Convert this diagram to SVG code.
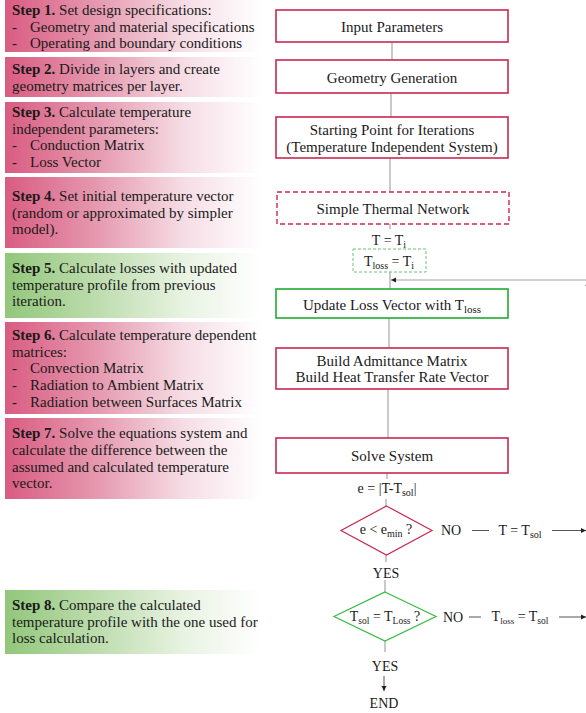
<svg xmlns="http://www.w3.org/2000/svg" width="586" height="713" viewBox="0 0 586 713">
<defs>
<linearGradient id="gPink" x1="0" y1="0" x2="1" y2="0">
<stop offset="0" stop-color="#d95c81"/>
<stop offset="0.35" stop-color="#e597ae"/>
<stop offset="0.7" stop-color="#f6dde5"/>
<stop offset="1" stop-color="#ffffff"/>
</linearGradient>
<linearGradient id="gGreen" x1="0" y1="0" x2="1" y2="0">
<stop offset="0" stop-color="#92c77b"/>
<stop offset="0.35" stop-color="#bcdcac"/>
<stop offset="0.7" stop-color="#e8f3e2"/>
<stop offset="1" stop-color="#ffffff"/>
</linearGradient>
<marker id="arr" markerWidth="6" markerHeight="6" refX="5" refY="3" orient="auto" markerUnits="userSpaceOnUse">
<path d="M0,0.5 L5,3 L0,5.5 Z" fill="#222"/>
</marker>
<style>
.st{font-family:"Liberation Serif","Times New Roman",serif;font-size:15px;fill:#1a1a1a}
.b{font-weight:bold}
.fc{font-family:"Liberation Serif","Times New Roman",serif;font-size:15px;fill:#1a1a1a;text-anchor:middle}
.lb{font-family:"Liberation Serif","Times New Roman",serif;font-size:14px;fill:#1a1a1a;text-anchor:middle}
.red{fill:#fff;stroke:#c8284e;stroke-width:1.6}
.grn{fill:#fff;stroke:#22aa33;stroke-width:1.6}
.redd{fill:#fff;stroke:#c8284e;stroke-width:1.4;stroke-dasharray:5,3}
.grnd{fill:#fff;stroke:#6cc46f;stroke-width:1;stroke-dasharray:3,2}
.ln{stroke:#a6a6a6;stroke-width:1.2;fill:none}
.la{stroke:#555;stroke-width:1;fill:none}
</style>
</defs>

<g id="steps">
<g id="step1">
<rect x="5" y="0" width="256" height="52" fill="url(#gPink)"/>
<text class="st" x="12" y="15"><tspan class="b">Step 1.</tspan> Set design specifications:</text>
<text class="st" x="12" y="31.5">-</text><text class="st" x="30" y="31.5">Geometry and material specifications</text>
<text class="st" x="12" y="48">-</text><text class="st" x="30" y="48">Operating and boundary conditions</text>
</g>
<g id="step2">
<rect x="5" y="57" width="256" height="40" fill="url(#gPink)"/>
<text class="st" x="12" y="74"><tspan class="b">Step 2.</tspan> Divide in layers and create</text>
<text class="st" x="12" y="90.5">geometry matrices per layer.</text>
</g>
<g id="step3">
<rect x="5" y="102" width="256" height="71" fill="url(#gPink)"/>
<text class="st" x="12" y="117"><tspan class="b">Step 3.</tspan> Calculate temperature</text>
<text class="st" x="12" y="133.5">independent parameters:</text>
<text class="st" x="12" y="150">-</text><text class="st" x="30" y="150">Conduction Matrix</text>
<text class="st" x="12" y="166.5">-</text><text class="st" x="30" y="166.5">Loss Vector</text>
</g>
<g id="step4">
<rect x="5" y="177" width="256" height="71" fill="url(#gPink)"/>
<text class="st" x="12" y="201"><tspan class="b">Step 4.</tspan> Set initial temperature vector</text>
<text class="st" x="12" y="217.5">(random or approximated by simpler</text>
<text class="st" x="12" y="234">model).</text>
</g>
<g id="step5">
<rect x="5" y="253" width="256" height="65" fill="url(#gGreen)"/>
<text class="st" x="12" y="273"><tspan class="b">Step 5.</tspan> Calculate losses with updated</text>
<text class="st" x="12" y="289.5">temperature profile from previous</text>
<text class="st" x="12" y="306">iteration.</text>
</g>
<g id="step6">
<rect x="5" y="322" width="256" height="92" fill="url(#gPink)"/>
<text class="st" x="12" y="340"><tspan class="b">Step 6.</tspan> Calculate temperature dependent</text>
<text class="st" x="12" y="356.7">matrices:</text>
<text class="st" x="12" y="373.3">-</text><text class="st" x="30" y="373.3">Convection Matrix</text>
<text class="st" x="12" y="390">-</text><text class="st" x="30" y="390">Radiation to Ambient Matrix</text>
<text class="st" x="12" y="406.7">-</text><text class="st" x="30" y="406.7">Radiation between Surfaces Matrix</text>
</g>
<g id="step7">
<rect x="5" y="418" width="256" height="81" fill="url(#gPink)"/>
<text class="st" x="12" y="438.3"><tspan class="b">Step 7.</tspan> Solve the equations system and</text>
<text class="st" x="12" y="455">calculate the difference between the</text>
<text class="st" x="12" y="471.7">assumed and calculated temperature</text>
<text class="st" x="12" y="488.3">vector.</text>
</g>
<g id="step8">
<rect x="5" y="590" width="256" height="64" fill="url(#gGreen)"/>
<text class="st" x="12" y="610"><tspan class="b">Step 8.</tspan> Compare the calculated</text>
<text class="st" x="12" y="626.7">temperature profile with the one used for</text>
<text class="st" x="12" y="643.3">loss calculation.</text>
</g>
</g>

<g id="connectors">
<line class="ln" x1="392" y1="42" x2="392" y2="60"/>
<line class="ln" x1="391" y1="93" x2="391" y2="117"/>
<line class="ln" x1="390" y1="158" x2="390" y2="192"/>
<line class="ln" x1="390" y1="224" x2="390" y2="229"/>
<line class="ln" x1="390" y1="272" x2="390" y2="289"/>
<line class="ln" x1="588" y1="280" x2="391" y2="280" marker-end="url(#arr)"/>
<line class="ln" x1="587.8" y1="617" x2="587.8" y2="281" marker-end="url(#arr)"/>
<line class="ln" x1="389" y1="318" x2="389" y2="348"/>
<line class="ln" x1="388" y1="389" x2="388" y2="438"/>
<line class="ln" x1="387" y1="473" x2="387" y2="479"/>
<line class="ln" x1="386" y1="499" x2="386" y2="506"/>
<line class="ln" x1="386" y1="555" x2="386" y2="562"/>
<line class="la" x1="472" y1="530.5" x2="489" y2="530.5"/>
<line class="la" x1="552" y1="530.5" x2="586" y2="530.5" marker-end="url(#arr)"/>
<line class="ln" x1="385" y1="580" x2="385" y2="592"/>
<line class="la" x1="469" y1="617" x2="481" y2="617"/>
<line class="la" x1="559" y1="617" x2="586" y2="617" marker-end="url(#arr)"/>
<line class="ln" x1="385" y1="641" x2="385" y2="652"/>
<line class="la" x1="384" y1="676" x2="384" y2="691" marker-end="url(#arr)"/>
</g>

<g id="input">
<rect class="red" x="276" y="10" width="232" height="32"/>
<text class="fc" x="392" y="32">Input Parameters</text>
</g>
<g id="geometry">
<rect class="red" x="276" y="60" width="232" height="33"/>
<text class="fc" x="392" y="83">Geometry Generation</text>
</g>
<g id="starting">
<rect class="red" x="276" y="117" width="232" height="41"/>
<text class="fc" x="392" y="135">Starting Point for Iterations</text>
<text class="fc" x="392" y="152">(Temperature Independent System)</text>
</g>
<g id="thermal">
<rect class="redd" x="277" y="192" width="232" height="32"/>
<text class="fc" x="393" y="214">Simple Thermal Network</text>
</g>
<g id="tinit">
<text class="lb" x="389" y="245">T = T<tspan font-size="10" dy="3">i</tspan></text>
</g>
<g id="tlossinit">
<rect class="grnd" x="353" y="249" width="73" height="23"/>
<text class="lb" x="389" y="266">T<tspan font-size="10" dy="3">loss</tspan><tspan dy="-3"> = T</tspan><tspan font-size="10" dy="3">i</tspan></text>
</g>
<g id="update">
<rect class="grn" x="276" y="289" width="232" height="29"/>
<text class="fc" x="392" y="310">Update Loss Vector with T<tspan font-size="11" dy="3">loss</tspan></text>
</g>
<g id="build">
<rect class="red" x="276" y="348" width="232" height="41"/>
<text class="fc" x="392" y="366">Build Admittance Matrix</text>
<text class="fc" x="392" y="382">Build Heat Transfer Rate Vector</text>
</g>
<g id="solve">
<rect class="red" x="276" y="438" width="232" height="35"/>
<text class="fc" x="392" y="461">Solve System</text>
</g>
<g id="error">
<text class="lb" x="387" y="493">e = |T-T<tspan font-size="10" dy="3">sol</tspan><tspan dy="-3">|</tspan></text>
</g>
<g id="check1">
<polygon points="386.5,506 432,530.5 386.5,555 341,530.5" fill="#fff" stroke="#c8284e" stroke-width="1.2"/>
<text class="lb" x="386" y="534">e &lt; e<tspan font-size="10" dy="3">min</tspan><tspan dy="-3"> ?</tspan></text>
<text class="lb" x="451" y="535">NO</text>
<text class="lb" x="520" y="535">T = T<tspan font-size="10" dy="3">sol</tspan></text>
<text class="lb" x="386" y="578">YES</text>
</g>
<g id="check2">
<polygon points="385,592 436,616.5 385,641 334,616.5" fill="#fff" stroke="#33bb44" stroke-width="1.2"/>
<text class="lb" x="385" y="621" font-size="13">T<tspan font-size="9.5" dy="3">sol</tspan><tspan dy="-3"> = T</tspan><tspan font-size="9.5" dy="3">Loss</tspan><tspan dy="-3"> ?</tspan></text>
<text class="lb" x="453" y="622">NO</text>
<text class="lb" x="520" y="621" font-size="12.5">T<tspan font-size="9" dy="3">loss</tspan><tspan dy="-3"> = T</tspan><tspan font-size="9.5" dy="3">sol</tspan></text>
<text class="lb" x="385" y="671">YES</text>
</g>
<g id="end">
<text class="lb" x="384" y="708">END</text>
</g>
</svg>
